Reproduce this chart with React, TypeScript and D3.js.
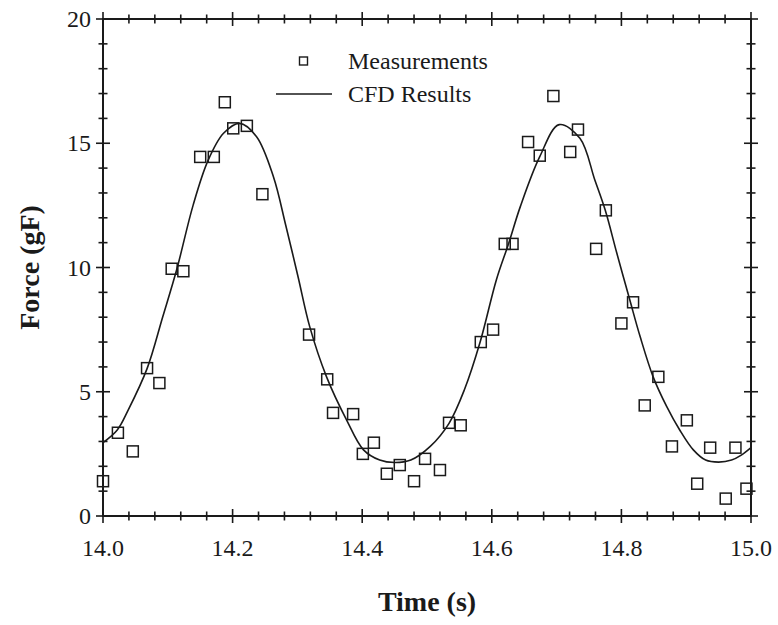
import React from "react";
import * as d3 from "d3";

// Measured force samples: time (s) and force (gF)
const measTime = [
  14.0, 14.023, 14.046, 14.068, 14.087, 14.106, 14.124, 14.15, 14.171, 14.188,
  14.201, 14.222, 14.246, 14.318, 14.346, 14.355, 14.386, 14.401, 14.418, 14.438,
  14.458, 14.48, 14.497, 14.52, 14.534, 14.552, 14.583, 14.602, 14.62, 14.632,
  14.656, 14.674, 14.695, 14.721, 14.733, 14.761, 14.776, 14.8, 14.818, 14.836,
  14.857, 14.878, 14.901, 14.917, 14.937, 14.961, 14.976, 14.993,
];
const measForce = [
  1.4, 3.35, 2.6, 5.95, 5.35, 9.95, 9.85, 14.45, 14.45, 16.65,
  15.6, 15.7, 12.95, 7.3, 5.5, 4.15, 4.1, 2.5, 2.95, 1.7,
  2.05, 1.4, 2.3, 1.85, 3.75, 3.65, 7.0, 7.5, 10.95, 10.95,
  15.05, 14.5, 16.9, 14.65, 15.55, 10.75, 12.3, 7.75, 8.6, 4.45,
  5.6, 2.8, 3.85, 1.3, 2.75, 0.7, 2.75, 1.1,
];

// CFD simulation result curve
const cfdTime = [
  14.0, 14.022, 14.039, 14.068, 14.092, 14.114, 14.139, 14.162, 14.186, 14.211,
  14.237, 14.263, 14.282, 14.301, 14.319, 14.345, 14.376, 14.402, 14.427, 14.45,
  14.475, 14.505, 14.534, 14.558, 14.582, 14.607, 14.626, 14.644, 14.674, 14.704,
  14.736, 14.759, 14.775, 14.793, 14.813, 14.829, 14.849, 14.87, 14.89, 14.911,
  14.93, 14.95, 14.97, 14.985, 15.0,
];
const cfdForce = [
  2.95, 3.46, 4.27, 5.93, 8.0, 9.94, 12.5, 14.3, 15.4, 15.8,
  15.26, 13.65, 11.7, 9.63, 7.62, 5.6, 3.86, 2.66, 2.25, 2.15,
  2.25, 2.8, 3.73, 5.1, 7.0, 9.5, 10.97, 12.45, 14.46, 15.75,
  15.2, 13.52, 12.31, 10.57, 8.69, 7.21, 5.6, 4.4, 3.46, 2.66,
  2.25, 2.17, 2.25, 2.45, 2.75,
];

const xTickValues = [14.0, 14.2, 14.4, 14.6, 14.8, 15.0];
const yTickValues = [0, 5, 10, 15, 20];
const legendLabels = ["Measurements", "CFD Results"];

const W = 778;
const H = 625;
const left = 103;
const right = 751;
const top = 19;
const bottom = 516;
const ink = "#1a1a1a";
const serif = { fontFamily: "'Liberation Serif', 'Times New Roman', serif" };

export default function App() {
  const x = d3.scaleLinear().domain([14, 15]).range([left, right]);
  const y = d3.scaleLinear().domain([0, 20]).range([bottom, top]);

  const xMinor = d3.range(0, 26).map((i) => 14 + i * 0.04);
  const yMinor = d3.range(0, 21);

  const cfd = cfdTime.map((t, i) => [t, cfdForce[i]] as [number, number]);
  const line = d3
    .line<[number, number]>()
    .x((d) => x(d[0]))
    .y((d) => y(d[1]))
    .curve(d3.curveCatmullRom.alpha(0.5));

  const isMajorX = (v: number) => xTickValues.some((m) => Math.abs(m - v) < 1e-6);
  const isMajorY = (v: number) => yTickValues.includes(v);

  const sq = 11;

  return (
    <svg
      width={W}
      height={H}
      style={{ position: "absolute", left: 0, top: 0, background: "#fff" }}
    >
      <rect x={0} y={0} width={W} height={H} fill="#fff" />

      {/* CFD curve */}
      <path d={line(cfd) ?? ""} fill="none" stroke={ink} strokeWidth={1.6} />

      {/* measurement markers */}
      {measTime.map((t, i) => (
        <rect
          key={i}
          x={x(t) - sq / 2}
          y={y(measForce[i]) - sq / 2}
          width={sq}
          height={sq}
          fill="none"
          stroke={ink}
          strokeWidth={1.5}
        />
      ))}

      {/* frame */}
      <rect
        x={left}
        y={top}
        width={right - left}
        height={bottom - top}
        fill="none"
        stroke={ink}
        strokeWidth={2}
      />

      {/* x ticks on bottom and top */}
      {xMinor.map((v, i) => {
        const len = isMajorX(v) ? 7 : 4.5;
        const px = x(v);
        return (
          <g key={i} stroke={ink} strokeWidth={1.6}>
            <line x1={px} x2={px} y1={bottom - len} y2={bottom + len} />
            <line x1={px} x2={px} y1={top - len} y2={top + len} />
          </g>
        );
      })}
      {/* y ticks on left and right */}
      {yMinor.map((v, i) => {
        const len = isMajorY(v) ? 7 : 4.5;
        const py = y(v);
        return (
          <g key={i} stroke={ink} strokeWidth={1.6}>
            <line x1={left - len} x2={left + len} y1={py} y2={py} />
            <line x1={right - len} x2={right + len} y1={py} y2={py} />
          </g>
        );
      })}

      {/* tick labels */}
      {xTickValues.map((v) => (
        <text
          key={v}
          x={x(v)}
          y={bottom + 40}
          textAnchor="middle"
          fontSize={24}
          fill={ink}
          style={serif}
        >
          {v.toFixed(1)}
        </text>
      ))}
      {yTickValues.map((v) => (
        <text
          key={v}
          x={left - 12}
          y={y(v) + 8}
          textAnchor="end"
          fontSize={24}
          fill={ink}
          style={serif}
        >
          {v}
        </text>
      ))}

      {/* axis titles */}
      <text
        x={(left + right) / 2}
        y={611}
        textAnchor="middle"
        fontSize={28}
        fontWeight="bold"
        fill={ink}
        style={serif}
      >
        Time (s)
      </text>
      <text
        transform={`translate(39, ${(top + bottom) / 2}) rotate(-90)`}
        textAnchor="middle"
        fontSize={28}
        fontWeight="bold"
        fill={ink}
        style={serif}
      >
        Force (gF)
      </text>

      {/* legend */}
      <rect x={299.5} y={57} width={8} height={8} fill="none" stroke={ink} strokeWidth={1.4} />
      <text x={348} y={69} fontSize={24} fill={ink} style={serif}>
        {legendLabels[0]}
      </text>
      <line x1={276} x2={332} y1={94} y2={94} stroke={ink} strokeWidth={1.6} />
      <text x={348} y={102} fontSize={24} fill={ink} style={serif}>
        {legendLabels[1]}
      </text>
    </svg>
  );
}
